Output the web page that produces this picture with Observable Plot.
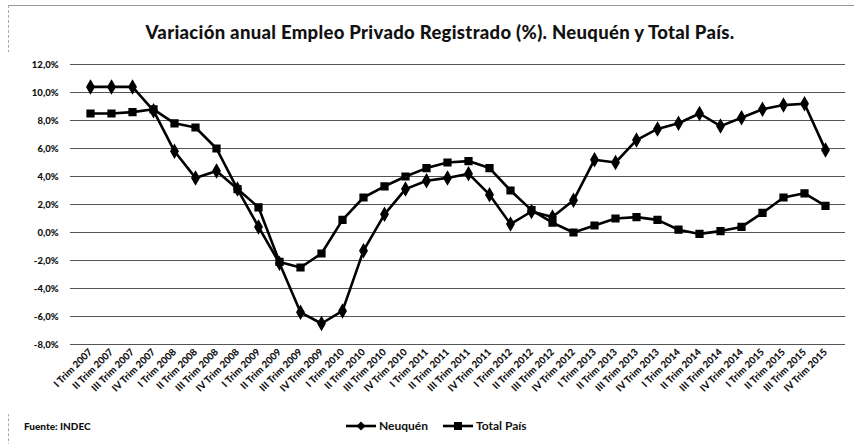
<!DOCTYPE html>
<html>
<head>
<meta charset="utf-8">
<script src="https://cdn.jsdelivr.net/npm/d3@7"></script>
<script src="https://cdn.jsdelivr.net/npm/@observablehq/plot@0.6"></script>
<style>
  body { margin: 0; background: #fff; font-family: Lato, "Open Sans", sans-serif; }
  #wrap { position: relative; width: 854px; height: 444px; overflow: hidden; background: #fff; }
  #frame { position: absolute; left: 8px; top: 5px; width: 900px; height: 500px; border-top: 1px solid #999; border-left: 1px dashed #aaa; }
  #title { position: absolute; left: 0; top: 21px; width: 880px; text-align: center; font-weight: 900; font-size: 18.5px; color: #111; letter-spacing: 0.3px; }
  #chart { position: absolute; left: 0; top: 52px; }
  #fuente { position: absolute; left: 24px; top: 420px; font-size: 10px; font-weight: 900; color: #111; }
  #legend { position: absolute; left: 345px; top: 418px; font-size: 12px; font-weight: 700; color: #111; display: flex; align-items: center; }
  #legend span.item { display: inline-flex; align-items: center; margin-right: 14px; }
  #legend svg { margin-right: 2px; }
</style>
</head>
<body>
<div id="wrap">
  <div id="frame"></div>
  <div id="title">Variación anual Empleo Privado Registrado (%). Neuquén y Total País.</div>
  <div id="chart"></div>
  <div id="fuente">Fuente: INDEC</div>
  <div id="legend"></div>
</div>
<script>
const quarters = [
  "I Trim 2007","II Trim 2007","III Trim 2007","IV Trim 2007",
  "I Trim 2008","II Trim 2008","III Trim 2008","IV Trim 2008",
  "I Trim 2009","II Trim 2009","III Trim 2009","IV Trim 2009",
  "I Trim 2010","II Trim 2010","III Trim 2010","IV Trim 2010",
  "I Trim 2011","II Trim 2011","III Trim 2011","IV Trim 2011",
  "I Trim 2012","II Trim 2012","III Trim 2012","IV Trim 2012",
  "I Trim 2013","II Trim 2013","III Trim 2013","IV Trim 2013",
  "I Trim 2014","II Trim 2014","III Trim 2014","IV Trim 2014",
  "I Trim 2015","II Trim 2015","III Trim 2015","IV Trim 2015"
];
const neuquen = [
  10.4, 10.4, 10.4, 8.7,
  5.8, 3.9, 4.4, 3.1,
  0.4, -2.2, -5.7, -6.5,
  -5.6, -1.3, 1.3, 3.1,
  3.7, 3.9, 4.2, 2.7,
  0.6, 1.5, 1.1, 2.3,
  5.2, 5.0, 6.6, 7.4,
  7.8, 8.5, 7.6, 8.2,
  8.8, 9.1, 9.2, 5.9
];
const totalPais = [
  8.5, 8.5, 8.6, 8.8,
  7.8, 7.5, 6.0, 3.1,
  1.8, -2.1, -2.5, -1.5,
  0.9, 2.5, 3.3, 4.0,
  4.6, 5.0, 5.1, 4.6,
  3.0, 1.6, 0.7, 0.0,
  0.5, 1.0, 1.1, 0.9,
  0.2, -0.1, 0.1, 0.4,
  1.4, 2.5, 2.8, 1.9
];
const yTicks = [-8, -6, -4, -2, 0, 2, 4, 6, 8, 10, 12];
const seriesNames = ["Neuquén", "Total País"];

const rows = [];
quarters.forEach((q, i) => {
  rows.push({q, v: neuquen[i], s: seriesNames[0]});
  rows.push({q, v: totalPais[i], s: seriesNames[1]});
});
const nq = rows.filter(d => d.s === seriesNames[0]);
const tp = rows.filter(d => d.s === seriesNames[1]);
const fmt = d => d.toFixed(1).replace(".", ",") + "%";

const chart = Plot.plot({
  width: 854,
  height: 362,
  marginTop: 12,
  marginBottom: 70,
  marginLeft: 70,
  marginRight: 9,
  style: { fontFamily: "Lato, 'Open Sans', sans-serif", fontSize: "9px", fontWeight: "900", color: "#111", background: "#fff" },
  x: { type: "point", domain: quarters, padding: 0.42, label: null },
  y: { domain: [-8, 12], label: null },
  marks: [
    Plot.ruleY(yTicks, { stroke: "#555", strokeWidth: 1.2 }),
    Plot.axisY({ ticks: yTicks, tickFormat: fmt, tickSize: 0, tickPadding: 12, label: null, fontSize: 9.5 }),
    Plot.axisX({ tickSize: 0, tickRotate: -45, tickPadding: 6, label: null, fontSize: 9.8 }),
    Plot.line(nq, { x: "q", y: "v", stroke: "#000", strokeWidth: 2.6 }),
    Plot.line(tp, { x: "q", y: "v", stroke: "#000", strokeWidth: 2.6 }),
    Plot.dot(nq, { x: "q", y: "v", symbol: "diamond", r: 3.8, fill: "#000", stroke: "#000" }),
    Plot.dot(tp, { x: "q", y: "v", symbol: "square", r: 3.8, fill: "#000", stroke: "#000" })
  ]
});
document.getElementById("chart").appendChild(chart);

const legend = document.getElementById("legend");
function item(name, shape) {
  const span = document.createElement("span");
  span.className = "item";
  const marker = shape === "diamond"
    ? '<path d="M16 2.5 L20.5 7 L16 11.5 L11.5 7 Z" fill="#000"/>'
    : '<rect x="12" y="3" width="8" height="8" fill="#000"/>';
  span.innerHTML = '<svg width="32" height="14"><line x1="1" y1="7" x2="31" y2="7" stroke="#000" stroke-width="2.6"/>' + marker + '</svg>' + name;
  legend.appendChild(span);
}
item(seriesNames[0], "diamond");
item(seriesNames[1], "square");
</script>
</body>
</html>
